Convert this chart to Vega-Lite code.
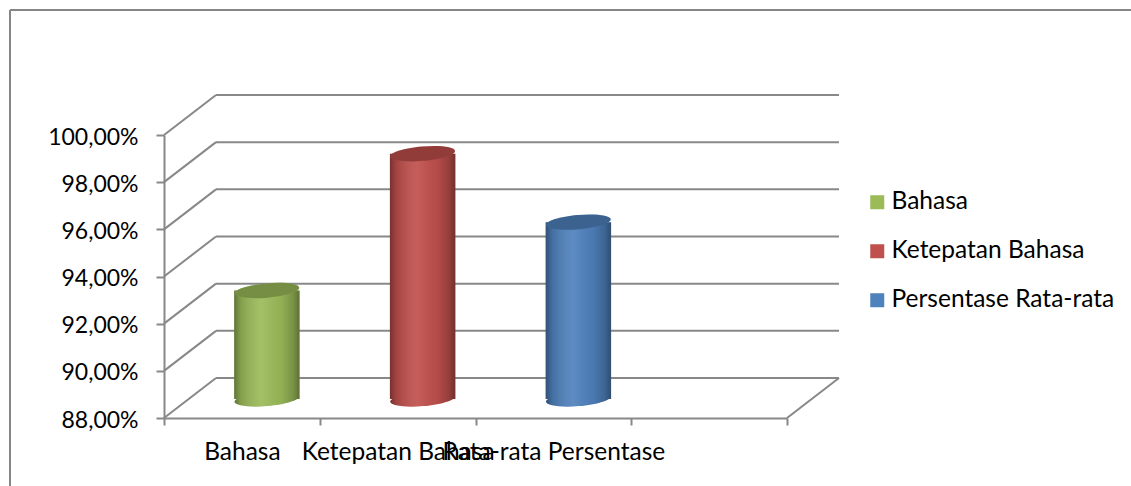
{
  "$schema": "https://vega.github.io/schema/vega-lite/v6.json",
  "width": 1121,
  "height": 476,
  "autosize": "none",
  "padding": {"left": 10, "top": 10, "right": 0, "bottom": 0},
  "background": "white",
  "config": {
    "locale": {"number": {"decimal": ",", "thousands": ".", "grouping": [3], "currency": ["Rp", ""]}},
    "view": {"stroke": "#868686", "strokeWidth": 2, "strokeDash": [1121, 1597, 476, 0]},
    "font": "Lato"
  },
  "layer": [
    {
      "data": {"values": [
        {"v": 0.88}, {"v": 0.90}, {"v": 0.92}, {"v": 0.94},
        {"v": 0.96}, {"v": 0.98}, {"v": 1.00}
      ]},
      "layer": [
        {
          "mark": {"type": "rule", "color": "#888888", "strokeWidth": 2, "xOffset": 52, "x2Offset": 52, "yOffset": -40},
          "encoding": {
            "x": {"datum": 0, "type": "quantitative", "scale": {"domain": [0, 4], "range": [154, 777], "zero": false, "nice": false}, "axis": null},
            "x2": {"datum": 4},
            "y": {"field": "v", "type": "quantitative", "title": null, "scale": {"domain": [0.88, 1.0], "range": [408, 125], "zero": false, "nice": false}}
          }
        },
        {
          "mark": {"type": "rule", "color": "#888888", "strokeWidth": 2, "x2Offset": 52, "y2Offset": -40},
          "encoding": {
            "x": {"datum": 0, "type": "quantitative", "scale": {"domain": [0, 4], "range": [154, 777], "zero": false, "nice": false}, "axis": null},
            "x2": {"datum": 0},
            "y": {"field": "v", "type": "quantitative", "title": null, "scale": {"domain": [0.88, 1.0], "range": [408, 125], "zero": false, "nice": false}},
            "y2": {"field": "v"}
          }
        },
        {
          "transform": [{"filter": "datum.v == 0.88"}],
          "mark": {"type": "rule", "color": "#888888", "strokeWidth": 2, "x2Offset": 52, "y2Offset": -40},
          "encoding": {
            "x": {"datum": 4, "type": "quantitative", "scale": {"domain": [0, 4], "range": [154, 777], "zero": false, "nice": false}, "axis": null},
            "x2": {"datum": 4},
            "y": {"field": "v", "type": "quantitative", "title": null, "scale": {"domain": [0.88, 1.0], "range": [408, 125], "zero": false, "nice": false}},
            "y2": {"field": "v"}
          }
        }
      ]
    },
    {
      "data": {"values": [
        {"kategori": "Bahasa", "seri": "Bahasa", "nilai": 0.926},
        {"kategori": "Ketepatan Bahasa", "seri": "Ketepatan Bahasa", "nilai": 0.984},
        {"kategori": "Rata-rata Persentase", "seri": "Persentase Rata-rata", "nilai": 0.955}
      ]},
      "encoding": {
        "x": {
          "field": "kategori", "type": "nominal",
          "scale": {"domain": ["Bahasa", "Ketepatan Bahasa", "Rata-rata Persentase", " "], "range": [154, 777], "paddingInner": 0, "paddingOuter": 0},
          "axis": {
            "orient": "bottom", "offset": -68, "title": null, "tickBand": "extent",
            "domainColor": "#888888", "domainWidth": 2, "tickColor": "#888888", "tickWidth": 2, "tickSize": 7,
            "labelAngle": 0, "labelFont": "Lato", "labelFontSize": 24.5, "labelColor": "#000000",
            "labelPadding": 15, "labelOverlap": false, "labelLimit": 0, "grid": false
          }
        },
        "color": {
          "field": "seri", "type": "nominal",
          "scale": {"domain": ["Bahasa", "Ketepatan Bahasa", "Persentase Rata-rata"], "range": ["#9BBB59", "#C0504D", "#4F81BD"]},
          "legend": {
            "orient": "none", "legendX": 855, "legendY": 180, "direction": "vertical", "title": null,
            "symbolType": "square", "symbolSize": 196, "symbolStrokeWidth": 0, "symbolOpacity": 1,
            "labelFont": "Lato", "labelFontSize": 24.5, "labelColor": "#000000", "labelOffset": 2,
            "rowPadding": 24, "padding": 0, "labelLimit": 0
          }
        }
      },
      "layer": [
        {
          "mark": {"type": "point", "shape": "M-1,0A1,0.22,0,1,1,1,0A1,0.22,0,1,1,-1,0Z", "size": 4225, "filled": true, "opacity": 1, "strokeWidth": 0, "xOffset": 25, "yOffset": -19, "angle": -5},
          "encoding": {"y": {"datum": 0.88, "type": "quantitative", "title": null, "scale": {"domain": [0.88, 1.0], "range": [408, 125], "zero": false, "nice": false}}}
        },
        {
          "mark": {"type": "point", "shape": "M-1,0A1,0.22,0,1,1,1,0A1,0.22,0,1,1,-1,0Z", "size": 4225, "filled": true, "opacity": 1, "strokeWidth": 0, "xOffset": 25, "yOffset": -19, "angle": -5},
          "encoding": {
            "y": {"datum": 0.88, "type": "quantitative", "title": null, "scale": {"domain": [0.88, 1.0], "range": [408, 125], "zero": false, "nice": false}},
            "fill": {"value": {"gradient": "linear", "x1": 0, "y1": 0, "x2": 1, "y2": 0, "stops": [
              {"offset": 0, "color": "rgba(0,0,0,0.38)"},
              {"offset": 0.1, "color": "rgba(0,0,0,0.15)"},
              {"offset": 0.42, "color": "rgba(255,255,255,0.08)"},
              {"offset": 0.72, "color": "rgba(0,0,0,0.06)"},
              {"offset": 0.9, "color": "rgba(0,0,0,0.22)"},
              {"offset": 1, "color": "rgba(0,0,0,0.4)"}
            ]}}
          }
        },
        {
          "mark": {"type": "bar", "width": {"band": 0.42}, "xOffset": 25, "yOffset": -19, "y2Offset": -19},
          "encoding": {
            "y": {
              "field": "nilai", "type": "quantitative", "title": null,
              "scale": {"domain": [0.88, 1.0], "range": [408, 125], "zero": false, "nice": false},
              "axis": {
                "orient": "left", "offset": -154, "title": null, "values": [0.88, 0.9, 0.92, 0.94, 0.96, 0.98, 1.0],
                "format": ".2%", "domainColor": "#888888", "domainWidth": 2, "tickColor": "#888888", "tickWidth": 2, "tickSize": 8,
                "labelFont": "Lato", "labelFontSize": 23, "labelColor": "#000000", "labelPadding": 18, "labelOffset": 2, "grid": false
              }
            },
            "y2": {"datum": 0.88}
          }
        },
        {
          "mark": {"type": "bar", "width": {"band": 0.42}, "xOffset": 25, "yOffset": -19, "y2Offset": -19},
          "encoding": {
            "y": {"field": "nilai", "type": "quantitative", "title": null, "scale": {"domain": [0.88, 1.0], "range": [408, 125], "zero": false, "nice": false}},
            "y2": {"datum": 0.88},
            "fill": {"value": {"gradient": "linear", "x1": 0, "y1": 0, "x2": 1, "y2": 0, "stops": [
              {"offset": 0, "color": "rgba(0,0,0,0.38)"},
              {"offset": 0.1, "color": "rgba(0,0,0,0.15)"},
              {"offset": 0.42, "color": "rgba(255,255,255,0.08)"},
              {"offset": 0.72, "color": "rgba(0,0,0,0.06)"},
              {"offset": 0.9, "color": "rgba(0,0,0,0.22)"},
              {"offset": 1, "color": "rgba(0,0,0,0.4)"}
            ]}}
          }
        },
        {
          "mark": {"type": "point", "shape": "M-1,0A1,0.22,0,1,1,1,0A1,0.22,0,1,1,-1,0Z", "size": 4225, "filled": true, "opacity": 1, "strokeWidth": 0, "xOffset": 25, "yOffset": -19, "angle": -5},
          "encoding": {"y": {"field": "nilai", "type": "quantitative", "title": null, "scale": {"domain": [0.88, 1.0], "range": [408, 125], "zero": false, "nice": false}}}
        },
        {
          "mark": {"type": "point", "shape": "M-1,0A1,0.22,0,1,1,1,0A1,0.22,0,1,1,-1,0Z", "size": 4225, "filled": true, "opacity": 1, "strokeWidth": 0, "xOffset": 25, "yOffset": -19, "angle": -5},
          "encoding": {
            "y": {"field": "nilai", "type": "quantitative", "title": null, "scale": {"domain": [0.88, 1.0], "range": [408, 125], "zero": false, "nice": false}},
            "fill": {"value": "rgba(0,0,0,0.24)"}
          }
        }
      ]
    }
  ],
  "resolve": {"scale": {"x": "independent"}}
}
